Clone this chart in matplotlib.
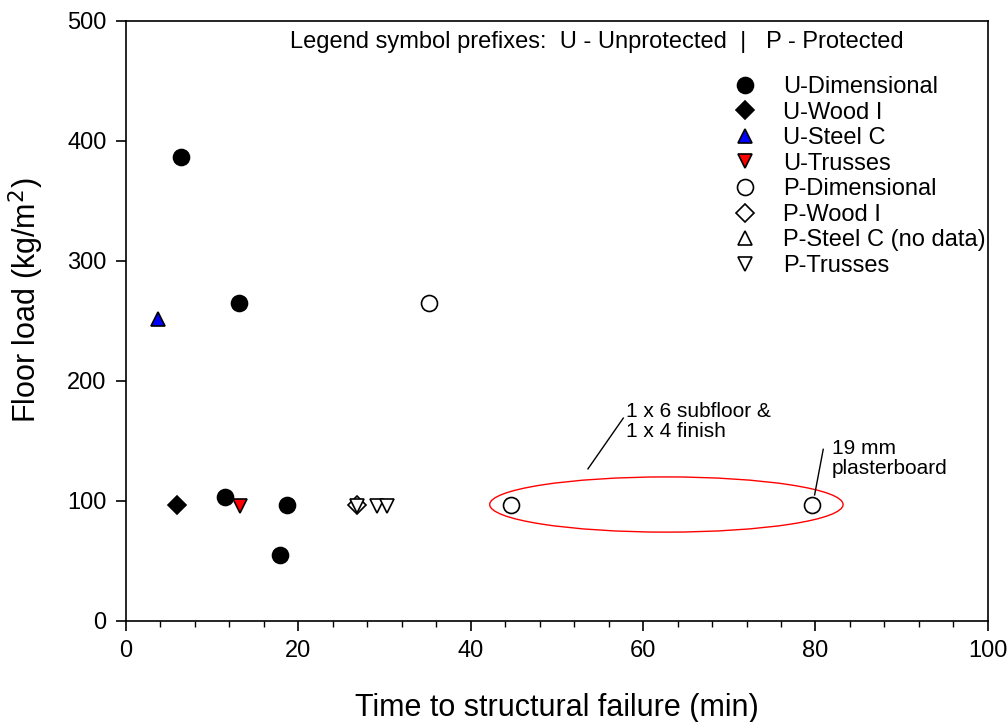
import matplotlib
matplotlib.use("Agg")
import matplotlib.pyplot as plt
from matplotlib.patches import Ellipse
from matplotlib.ticker import MultipleLocator

plt.rcParams['font.family'] = ['Liberation Sans', 'DejaVu Sans']

# Data (time to failure in min, floor load kg/m2)
u_dim_x = [6.4, 13.1, 11.5, 18.7, 17.9]
u_dim_y = [387, 265, 103, 97, 55]
u_wood_x = [5.9]
u_wood_y = [97]
u_steel_x = [3.7]
u_steel_y = [252]
u_truss_x = [13.2]
u_truss_y = [96]
p_dim_x = [35.2, 44.7, 79.6]
p_dim_y = [265, 97, 97]
p_wood_x = [26.8]
p_wood_y = [97]
p_steel_x = []
p_steel_y = []
p_truss_x = [26.8, 29.1, 30.3]
p_truss_y = [96, 96, 96]

labels = ['U-Dimensional', 'U-Wood I', 'U-Steel C', 'U-Trusses',
          'P-Dimensional', 'P-Wood I', 'P-Steel C (no data)', 'P-Trusses']

fig = plt.figure(figsize=(10.08, 7.22), dpi=100)
ax = fig.add_axes([0.125, 0.140, 0.855, 0.831])

ms = 11.5
common = dict(linestyle='none', markeredgecolor='black', markeredgewidth=1.2)
ax.plot(u_dim_x, u_dim_y, marker='o', markerfacecolor='black', markersize=ms, label=labels[0], **common)
ax.plot(u_wood_x, u_wood_y, marker='D', markerfacecolor='black', markersize=ms - 2, label=labels[1], **common)
ax.plot(u_steel_x, u_steel_y, marker='^', markerfacecolor='#0000ff', markersize=ms - 1, label=labels[2], **common)
ax.plot(u_truss_x, u_truss_y, marker='v', markerfacecolor='#ff0000', markersize=ms - 1, label=labels[3], **common)
ax.plot(p_dim_x, p_dim_y, marker='o', markerfacecolor='white', markersize=ms, label=labels[4], **common)
ax.plot(p_wood_x, p_wood_y, marker='D', markerfacecolor='white', markersize=ms - 2, label=labels[5], **common)
ax.plot(p_steel_x, p_steel_y, marker='^', markerfacecolor='white', markersize=ms - 1, label=labels[6], **common)
ax.plot(p_truss_x, p_truss_y, marker='v', markerfacecolor='white', markersize=ms - 1, label=labels[7], **common)

ax.set_xlim(0, 100)
ax.set_ylim(0, 500)
ax.xaxis.set_major_locator(MultipleLocator(20))
ax.xaxis.set_minor_locator(MultipleLocator(4))
ax.yaxis.set_major_locator(MultipleLocator(100))
ax.tick_params(axis='both', which='major', direction='out', length=7, width=1.2, labelsize=17, pad=7)
ax.tick_params(axis='x', which='minor', direction='out', length=4, width=1)
for s in ax.spines.values():
    s.set_linewidth(1.2)

ax.set_xlabel('Time to structural failure (min)', fontsize=22, labelpad=22)
ax.set_ylabel('Floor load (kg/m$^2$)', fontsize=22)
ax.yaxis.set_label_coords(-0.093, 0.535)

ax.text(0.546, 0.965, 'Legend symbol prefixes:  U - Unprotected  |   P - Protected',
        transform=ax.transAxes, ha='center', va='center', fontsize=17)

leg = ax.legend(loc='upper left', bbox_to_anchor=(0.705, 0.908), frameon=False,
                fontsize=17, handlelength=1.0, handletextpad=1.1, labelspacing=0.15,
                borderaxespad=0, borderpad=0)

# Ellipse and annotations
ell = Ellipse((62.7, 97), width=41, height=46, fill=False, edgecolor='red', linewidth=1)
ax.add_patch(ell)
ax.plot([53.6, 57.7], [126.7, 169], color='black', linewidth=1)
ax.text(58.0, 166, '1 x 6 subfloor &\n1 x 4 finish', ha='left', va='center', fontsize=15, linespacing=1.1)
ax.plot([79.9, 80.9], [105, 143], color='black', linewidth=1)
ax.text(81.9, 135.4, '19 mm\nplasterboard', ha='left', va='center', fontsize=15, linespacing=1.1)

fig.savefig('out.png', dpi=100)
